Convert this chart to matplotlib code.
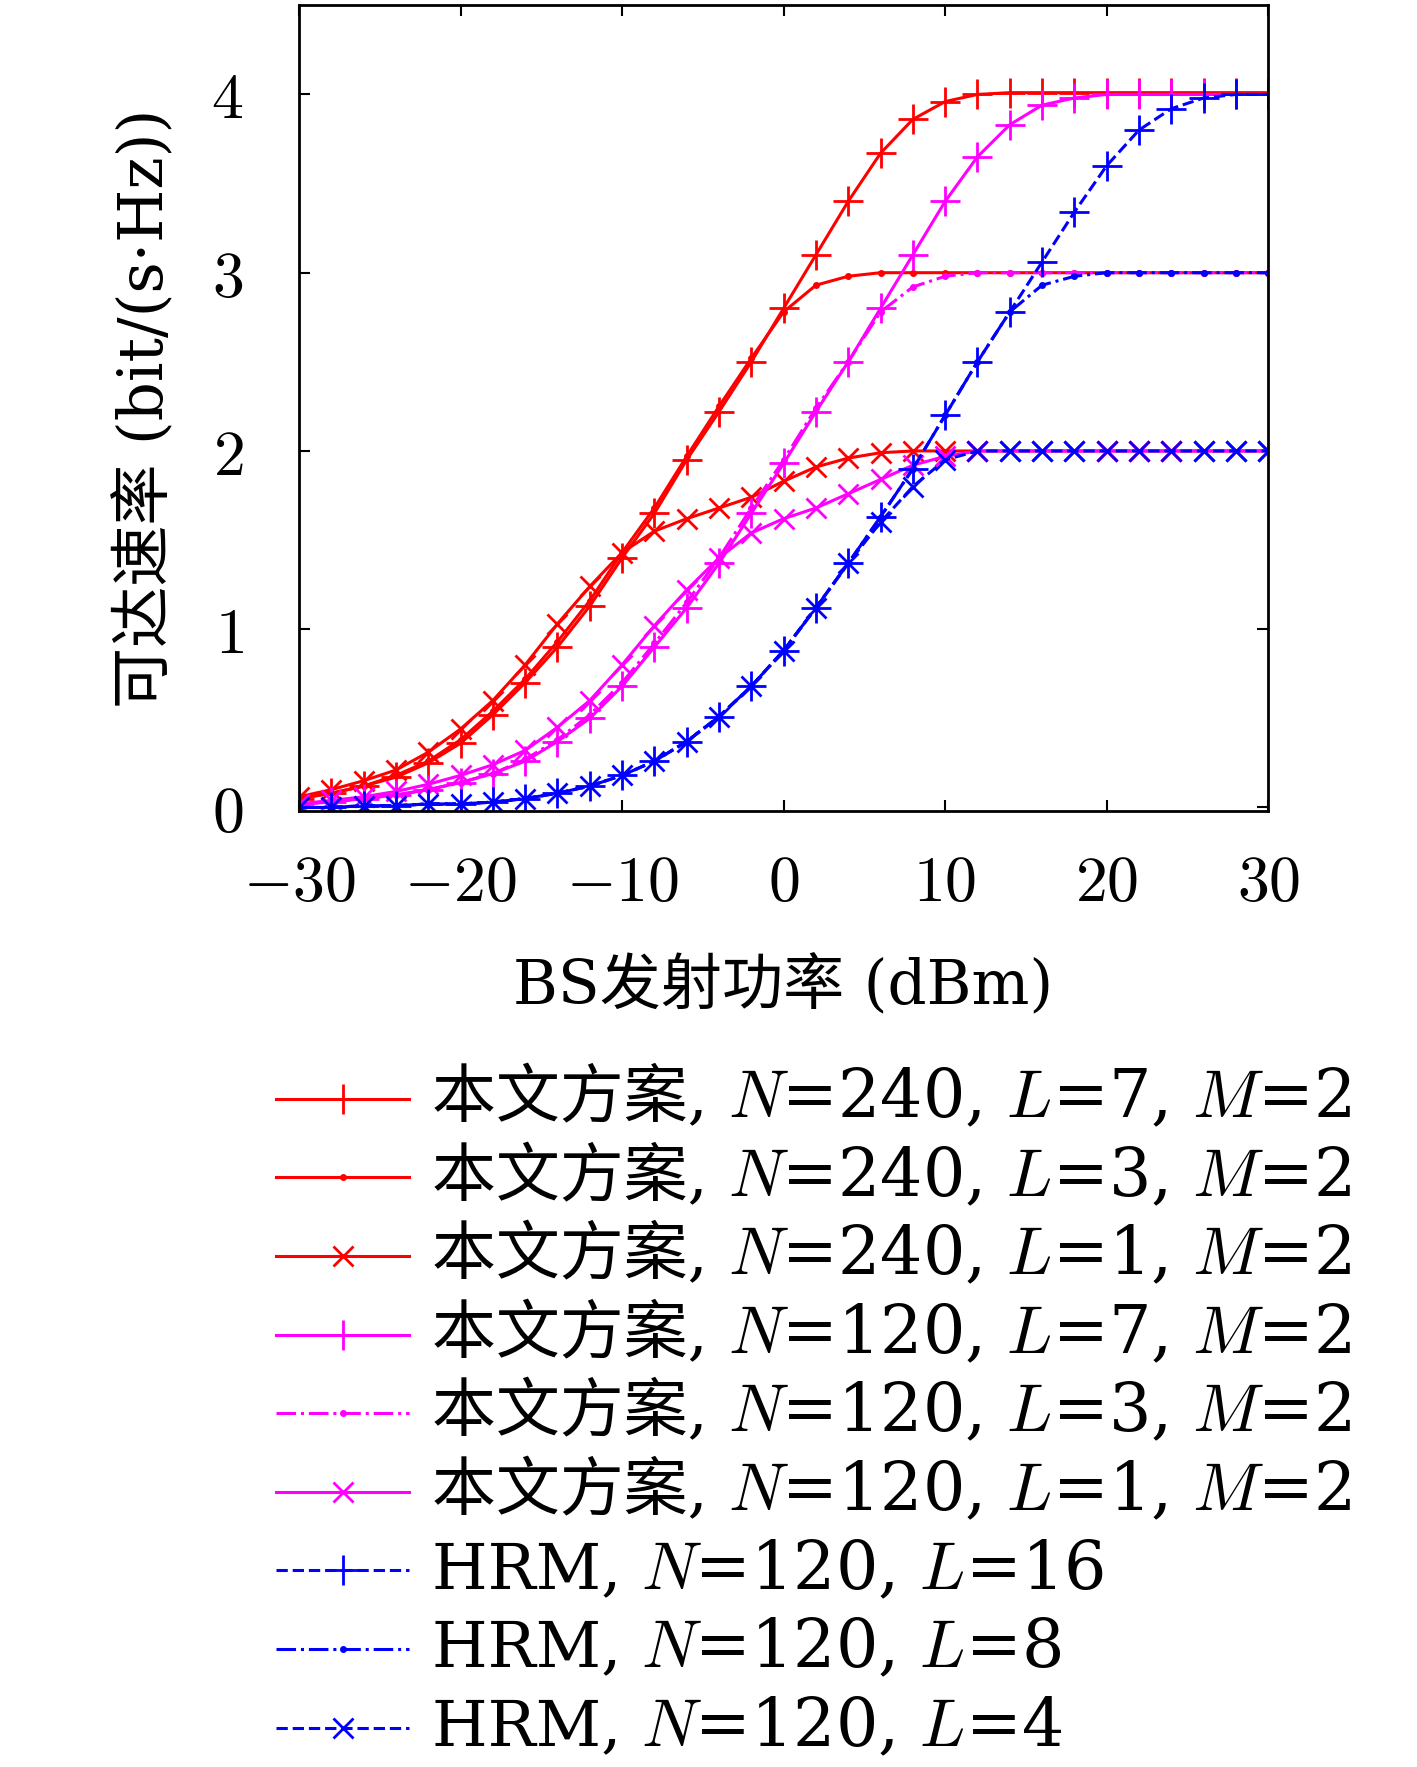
import numpy as np
import matplotlib
matplotlib.use('Agg')
import matplotlib.pyplot as plt
from matplotlib.lines import Line2D

plt.rcParams['font.family'] = ['DejaVu Serif', 'Noto Sans CJK SC']
plt.rcParams['mathtext.fontset'] = 'cm'

# ---------------------------------------------------------------------------
# Data
# ---------------------------------------------------------------------------
power_dbm = list(range(-30, 31, 2))

red_L7 = [0.05, 0.08, 0.12, 0.17, 0.25, 0.36, 0.52, 0.70, 0.90, 1.13, 1.40, 1.65, 1.95, 2.22,
          2.50, 2.80, 3.10, 3.40, 3.67, 3.86, 3.96, 4.00, 4.01, 4.01, 4.01, 4.01, 4.01, 4.01,
          4.01, 4.01, 4.01]
red_L3 = [0.05, 0.08, 0.12, 0.18, 0.26, 0.38, 0.54, 0.72, 0.93, 1.16, 1.43, 1.68, 1.97, 2.25,
          2.52, 2.78, 2.93, 2.98, 3.00, 3.00, 3.00, 3.00, 3.00, 3.00, 3.00, 3.00, 3.00, 3.00,
          3.00, 3.00, 3.00]
red_L1 = [0.06, 0.10, 0.15, 0.21, 0.31, 0.44, 0.60, 0.80, 1.03, 1.24, 1.43, 1.55, 1.62, 1.68,
          1.74, 1.83, 1.91, 1.96, 1.99, 2.00, 2.00, 2.00, 2.00, 2.00, 2.00, 2.00, 2.00, 2.00,
          2.00, 2.00, 2.00]
mag_L7 = [0.02, 0.03, 0.05, 0.07, 0.10, 0.14, 0.19, 0.26, 0.37, 0.50, 0.68, 0.90, 1.12, 1.37,
          1.65, 1.93, 2.22, 2.50, 2.80, 3.10, 3.40, 3.65, 3.83, 3.94, 3.98, 4.00, 4.00, 4.00,
          4.00, 4.00, 4.00]
mag_L3 = [0.02, 0.03, 0.05, 0.07, 0.10, 0.14, 0.19, 0.27, 0.38, 0.52, 0.70, 0.92, 1.15, 1.40,
          1.68, 1.95, 2.24, 2.50, 2.78, 2.92, 2.98, 3.00, 3.00, 3.00, 3.00, 3.00, 3.00, 3.00,
          3.00, 3.00, 3.00]
mag_L1 = [0.02, 0.04, 0.06, 0.09, 0.13, 0.18, 0.24, 0.32, 0.45, 0.60, 0.80, 1.02, 1.22, 1.40,
          1.54, 1.62, 1.68, 1.76, 1.84, 1.92, 1.97, 2.00, 2.00, 2.00, 2.00, 2.00, 2.00, 2.00,
          2.00, 2.00, 2.00]
blue_L16 = [0.00, 0.00, 0.01, 0.01, 0.02, 0.02, 0.03, 0.05, 0.08, 0.12, 0.18, 0.26, 0.37, 0.51,
            0.68, 0.88, 1.12, 1.37, 1.63, 1.90, 2.20, 2.50, 2.78, 3.06, 3.34, 3.60, 3.80, 3.92,
            3.98, 4.00, 4.00]
blue_L8 = [0.00, 0.00, 0.01, 0.01, 0.02, 0.02, 0.03, 0.05, 0.08, 0.12, 0.18, 0.26, 0.37, 0.51,
           0.68, 0.88, 1.12, 1.37, 1.63, 1.90, 2.20, 2.50, 2.78, 2.93, 2.98, 3.00, 3.00, 3.00,
           3.00, 3.00, 3.00]
blue_L4 = [0.00, 0.00, 0.01, 0.01, 0.02, 0.02, 0.03, 0.05, 0.08, 0.12, 0.18, 0.26, 0.37, 0.51,
           0.68, 0.88, 1.12, 1.37, 1.60, 1.80, 1.95, 2.00, 2.00, 2.00, 2.00, 2.00, 2.00, 2.00,
           2.00, 2.00, 2.00]

# legend labels: plain-text prefix (CJK capable) + mathtext part
label_prefix = ['本文方案, '] * 6 + ['HRM, '] * 3
label_math = [
    '$N$=240, $L$=7, $M$=2',
    '$N$=240, $L$=3, $M$=2',
    '$N$=240, $L$=1, $M$=2',
    '$N$=120, $L$=7, $M$=2',
    '$N$=120, $L$=3, $M$=2',
    '$N$=120, $L$=1, $M$=2',
    '$N$=120, $L$=16',
    '$N$=120, $L$=8',
    '$N$=120, $L$=4',
]
series = [red_L7, red_L3, red_L1, mag_L7, mag_L3, mag_L1, blue_L16, blue_L8, blue_L4]

styles = [
    ('#ff0000', '-', '+'), ('#ff0000', '-', '.'), ('#ff0000', '-', 'x'),
    ('#ff00ff', '-', '+'), ('#ff00ff', '-.', '.'), ('#ff00ff', '-', 'x'),
    ('#0000ff', '--', '+'), ('#0000ff', '-.', '.'), ('#0000ff', '--', 'x'),
]


def marker_size(mk):
    return 22 if mk == '+' else (15 if mk == 'x' else 6)


fig = plt.figure(figsize=(14.17, 17.67), dpi=100)
ax = fig.add_axes([0.211, 0.541, 0.684, 0.456])

for y, (col, ls, mk) in zip(series, styles):
    ax.plot(power_dbm, y, color=col, linestyle=ls, marker=mk, markersize=marker_size(mk),
            markeredgewidth=2, linewidth=2.2)

ax.set_xlim(-30, 30)
ax.set_ylim(-0.02, 4.5)
ax.set_xticks([-30, -20, -10, 0, 10, 20, 30])
ax.set_xticklabels(['$-30$', '$-20$', '$-10$', '$0$', '$10$', '$20$', '$30$'], fontsize=46)
ax.set_yticks([0, 1, 2, 3, 4])
ax.set_yticklabels(['$0$', '$1$', '$2$', '$3$', '$4$'], fontsize=46)
ax.tick_params(direction='in', length=8, width=1.5, top=True, right=True)
ax.tick_params(axis='x', pad=30)
ax.tick_params(axis='y', pad=40)
for s in ax.spines.values():
    s.set_linewidth(2)

ax.set_xlabel('BS发射功率 (dBm)', fontsize=44, labelpad=30)
ax.set_ylabel('可达速率 (bit/(s·Hz))', fontsize=44, labelpad=25)

# ---------------------------------------------------------------------------
# Hand-built legend (mathtext cannot fall back to CJK fonts)
# ---------------------------------------------------------------------------
y0 = 1 - 975 / 1568
dy = 69.75 / 1568
hx0, hx1 = 245 / 1257, 363 / 1257
tx = 383 / 1257
for i, ((col, ls, mk), pre, mth) in enumerate(zip(styles, label_prefix, label_math)):
    yy = y0 - i * dy
    fig.add_artist(Line2D([hx0, hx1], [yy, yy], transform=fig.transFigure,
                          color=col, linestyle=ls, linewidth=2.2))
    fig.add_artist(Line2D([(hx0 + hx1) / 2], [yy], transform=fig.transFigure,
                          color=col, marker=mk, markersize=marker_size(mk),
                          markeredgewidth=2, linestyle='none'))
    t = fig.text(tx, yy, pre, fontsize=46, va='center', ha='left')
    fig.text(0, 0, mth, fontsize=48, va='center', ha='left',
             transform=matplotlib.transforms.offset_copy(
                 fig.transFigure, fig=fig, x=0, y=0))
    fig.texts[-1].remove()
    ax.annotate(mth, xy=(1, 0.5), xycoords=t, fontsize=48, va='center', ha='left',
                annotation_clip=False)

fig.savefig('out.png', dpi=100)
